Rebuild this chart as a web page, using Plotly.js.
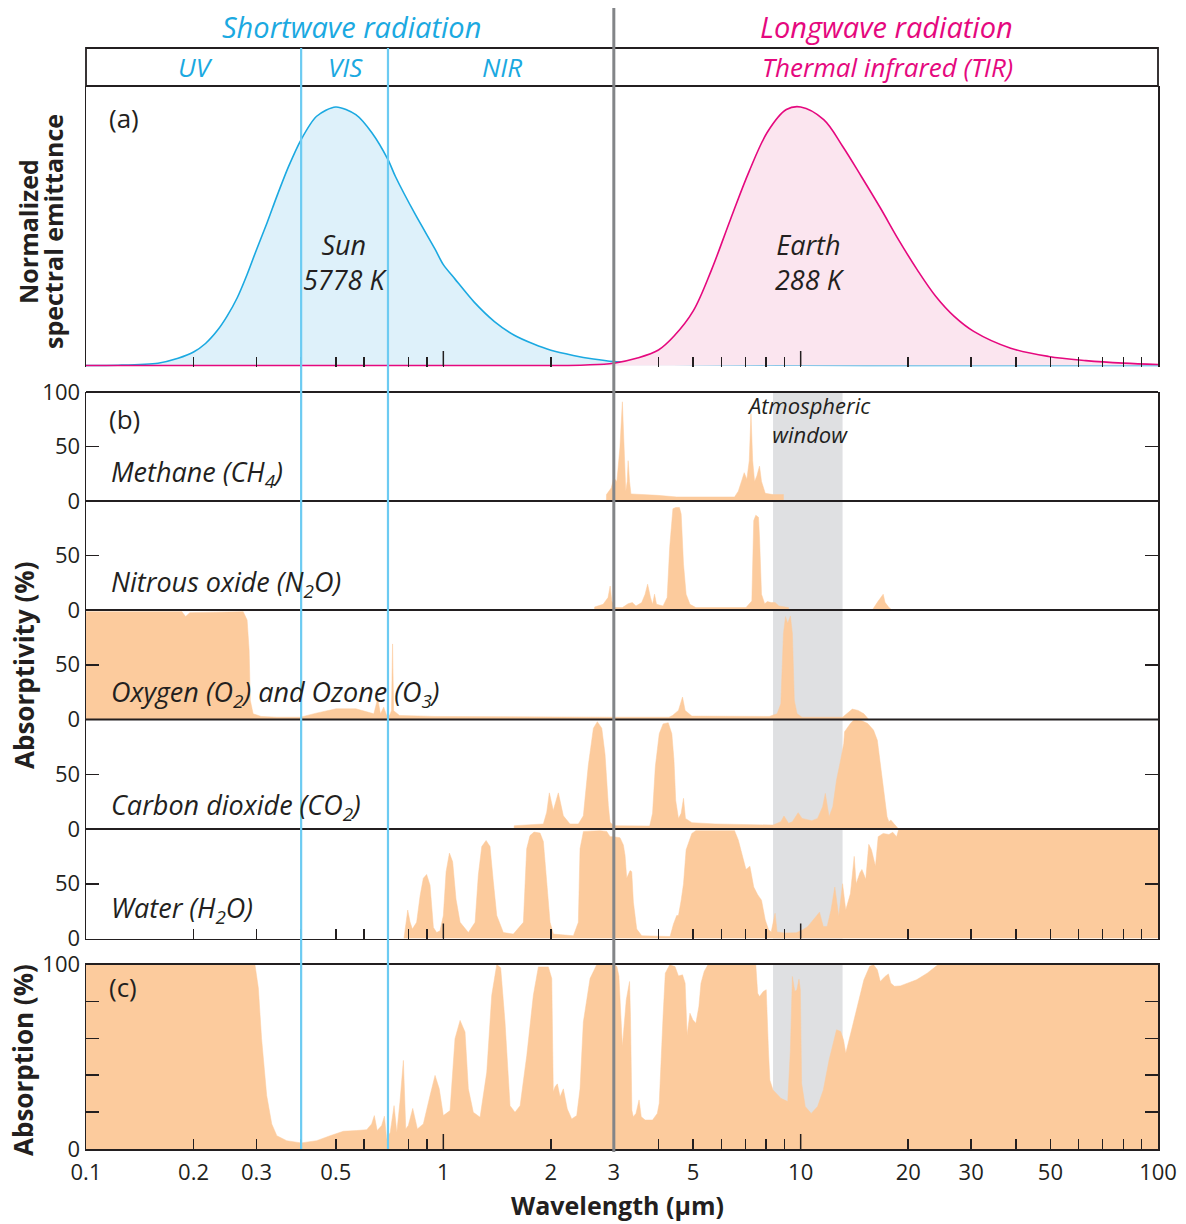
<!DOCTYPE html>
<html><head><meta charset="utf-8">
<script src="https://cdn.plot.ly/plotly-3.0.1.min.js"></script>
<style>html,body{margin:0;padding:0;background:#fff}#chart{width:1186px;height:1224px}</style>
</head><body><div id="chart"></div>
<script>
// ---------- DATA ----------
// Panel (a): normalized spectral emittance
const sunWl  = [0.1, 0.123, 0.159, 0.181, 0.2, 0.216, 0.233, 0.248, 0.265, 0.282, 0.3, 0.321, 0.342, 0.369, 0.4, 0.442, 0.5, 0.569, 0.631, 0.7, 0.735, 0.834, 0.948, 1.0, 1.077, 1.22, 1.39, 1.58, 1.79, 2.0, 2.31, 2.63, 3.0, 4.0, 5.0, 7.0, 10, 20, 100];
const sunVal = [0, 0.001, 0.009, 0.028, 0.052, 0.085, 0.135, 0.19, 0.262, 0.35, 0.448, 0.551, 0.654, 0.77, 0.874, 0.964, 1.0, 0.97, 0.9, 0.796, 0.73, 0.585, 0.45, 0.39, 0.335, 0.245, 0.17, 0.117, 0.083, 0.059, 0.039, 0.025, 0.015, 0.007, 0.004, 0.002, 0.001, 0, 0];
const earthWl  = [0.1, 2.0, 2.5, 3.0, 3.47, 4.0, 4.43, 5.0, 5.63, 6.36, 7.17, 8.09, 9.12, 10, 11.6, 13.1, 14.8, 16.7, 18.8, 21.2, 23.9, 26.9, 30.5, 38.7, 49.4, 62.8, 80, 100];
const earthVal = [0, 0, 0.002, 0.009, 0.028, 0.06, 0.115, 0.21, 0.37, 0.565, 0.75, 0.905, 0.99, 1.0, 0.951, 0.848, 0.73, 0.61, 0.486, 0.37, 0.267, 0.19, 0.132, 0.067, 0.035, 0.019, 0.009, 0.004];

// Panel (b): absorptivity (%) per gas
const ch4Wl  = [2.86, 2.861, 2.95, 3.00, 3.06, 3.12, 3.17, 3.21, 3.24, 3.27, 3.29, 3.32, 3.35, 3.97, 4.50, 6.53, 6.69, 6.86, 6.95, 7.07, 7.18, 7.26, 7.34, 7.43, 7.54, 7.67, 7.77, 7.96, 8.37, 8.95, 8.951];
const ch4Val = [0, 5.9, 12, 21, 18, 49, 91, 49, 9, 18, 37, 18, 6.5, 5.2, 3.7, 3.7, 9, 20, 26, 20, 37, 80, 37, 18, 23, 32, 18, 7, 5.9, 5.9, 0];

const n2oWl  = [2.65, 2.651, 2.80, 2.89, 2.93, 2.96, 3.02, 3.17, 3.29, 3.38, 3.46, 3.59, 3.67, 3.73, 3.80, 3.85, 3.90, 3.95, 4.12, 4.23, 4.30, 4.39, 4.47, 4.58, 4.63, 4.70, 4.78, 4.90, 5.09, 7.03, 7.30, 7.39, 7.49, 7.62, 7.67, 7.77, 7.93, 8.07, 8.27, 8.48, 8.69, 9.25, 9.251, 15.87, 16.39, 17.02, 17.22, 17.66, 18.02];
const n2oVal = [0, 2.8, 5.2, 11.4, 22, 8.3, 2.2, 2.2, 5.8, 6.8, 3.7, 6.8, 14.5, 23.7, 11.4, 5.2, 14.5, 5.2, 3.7, 11.4, 57.5, 93, 94, 94, 88, 42, 14.5, 5.2, 2.2, 2.2, 8.3, 82, 87, 85, 67, 14.5, 5.8, 7.7, 6.8, 6.8, 3.7, 2.2, 0, 0, 7, 14.5, 7, 2.2, 0];

const o3Wl  = [0.1, 0.1855, 0.190, 0.1952, 0.2754, 0.2824, 0.2861, 0.2883, 0.2936, 0.309, 0.342, 0.398, 0.441, 0.501, 0.569, 0.614, 0.639, 0.655, 0.667, 0.681, 0.694, 0.707, 0.716, 0.721, 0.726, 0.754, 0.948, 2.91, 4.28, 4.38, 4.55, 4.67, 4.75, 4.96, 8.17, 8.59, 8.80, 8.95, 9.07, 9.20, 9.36, 9.48, 9.60, 9.77, 10.09, 13.1, 13.43, 13.95, 14.48, 15.03, 15.51];
const o3Val = [98.5, 98.5, 94, 97.6, 98.5, 90.8, 63.3, 17.4, 5.2, 2.8, 2.1, 2.1, 5.8, 9.8, 9.8, 6.7, 5.2, 19, 5.2, 11.3, 3.7, 3.7, 8, 69, 8, 3.7, 2.8, 2.1, 2.1, 3.7, 8.3, 20.5, 8.3, 3.1, 2.8, 5.2, 14.4, 78.6, 93.9, 87.8, 94.5, 78.6, 17.4, 5.2, 2.1, 2.1, 5.2, 9.5, 8.3, 5.2, 0];

const co2Wl  = [1.578, 1.579, 1.905, 1.947, 1.98, 2.031, 2.098, 2.167, 2.262, 2.387, 2.465, 2.545, 2.63, 2.698, 2.776, 2.835, 2.896, 2.928, 3.0, 3.78, 3.85, 3.92, 4.02, 4.12, 4.26, 4.36, 4.42, 4.47, 4.55, 4.63, 4.70, 4.76, 4.96, 5.76, 8.37, 8.80, 8.98, 9.25, 9.48, 9.84, 10.09, 10.74, 11.15, 11.52, 11.72, 12.01, 12.30, 12.6, 12.94, 13.2, 13.27, 13.78, 14.12, 14.84, 15.4, 15.99, 16.39, 16.6, 17.02, 17.45, 17.66, 17.88, 18.2, 18.56, 18.79];
const co2Val = [0, 3, 4.6, 15.4, 33, 17, 33, 12, 4.6, 4.6, 12, 58, 92, 98, 92, 68, 21.5, 6.2, 3, 2.7, 14.3, 57, 87, 96, 97, 87, 63, 26, 9.7, 14.3, 28, 9.7, 5.8, 4.6, 3.6, 6.7, 11.9, 5.2, 6.7, 14.9, 9.7, 7.6, 9.7, 20.4, 32.5, 11.2, 20.4, 44.7, 63, 78, 88.8, 96.4, 100, 98.8, 96.4, 90.3, 81, 66, 38.6, 11.2, 6.7, 8.2, 5.2, 2.1, 0];

const h2oWl  = [0.776, 0.785, 0.795, 0.807, 0.819, 0.842, 0.861, 0.879, 0.898, 0.918, 0.928, 0.938, 0.958, 0.979, 1.0, 1.018, 1.04, 1.062, 1.085, 1.114, 1.175, 1.227, 1.253, 1.281, 1.317, 1.351, 1.38, 1.411, 1.472, 1.57, 1.675, 1.711, 1.748, 1.794, 1.865, 1.905, 1.947, 1.989, 2.032, 2.312, 2.387, 2.413, 2.466, 2.746, 2.866, 2.928, 2.991, 3.122, 3.19, 3.225, 3.26, 3.331, 3.367, 3.403, 3.477, 3.592, 4.311, 4.404, 4.499, 4.55, 4.63, 4.70, 4.78, 4.96, 5.09, 6.53, 6.69, 6.86, 7.03, 7.21, 7.39, 7.58, 7.77, 7.96, 8.13, 8.27, 8.48, 8.59, 9.02, 9.72, 10.09, 10.47, 10.87, 11.29, 11.57, 11.86, 12.16, 12.46, 12.78, 13.1, 13.37, 13.78, 14.12, 14.30, 14.65, 14.84, 15.21, 15.51, 15.78, 16.19, 16.48, 17.02, 17.66, 18.10, 18.56, 18.79, 19.5, 100];
const h2oVal = [0, 12, 26, 15, 8.6, 14.8, 39, 55, 58.5, 48.6, 24, 10, 5.5, 7, 21, 61, 78, 70, 36, 14.8, 5.5, 14.8, 58, 84, 89.5, 84, 52, 21, 5.5, 4, 14.8, 82, 94, 97.2, 96.3, 88.6, 51.7, 14.8, 4, 2.5, 14.8, 82, 97.8, 98.5, 97.8, 93, 93, 92, 85.5, 76, 55, 62, 61, 33, 8.6, 2.5, 1.8, 13, 21, 21, 35, 50, 81, 96, 98.5, 98.5, 90, 75, 63, 66, 47, 40, 35, 17, 8, 6, 23, 6, 5, 5.2, 7.6, 11, 17, 24, 11, 11, 26, 47, 20, 50, 26, 41, 75, 50, 60, 63, 54, 86, 81, 66, 93, 96, 95, 97, 93, 99, 100, 100];

// Panel (c): total atmospheric absorption (%)
const totWl  = [0.1, 0.297, 0.3036, 0.310, 0.3204, 0.331, 0.342, 0.3645, 0.4, 0.442, 0.482, 0.525, 0.572, 0.6105, 0.630, 0.641, 0.653, 0.672, 0.684, 0.694, 0.71, 0.728, 0.741, 0.756, 0.773, 0.785, 0.798, 0.821, 0.846, 0.879, 0.918, 0.948, 0.974, 1.0, 1.044, 1.078, 1.114, 1.15, 1.175, 1.213, 1.267, 1.323, 1.366, 1.411, 1.447, 1.488, 1.537, 1.587, 1.64, 1.712, 1.786, 1.845, 1.968, 2.011, 2.031, 2.054, 2.085, 2.122, 2.167, 2.223, 2.287, 2.362, 2.413, 2.465, 2.574, 2.688, 3.0, 3.06, 3.10, 3.14, 3.17, 3.25, 3.32, 3.34, 3.37, 3.40, 3.46, 3.53, 3.58, 3.67, 3.85, 3.97, 4.02, 4.12, 4.18, 4.30, 4.45, 4.55, 4.67, 4.75, 4.81, 4.90, 4.99, 5.09, 5.19, 5.26, 5.37, 5.5, 7.49, 7.58, 7.67, 7.86, 8.01, 8.13, 8.2, 8.37, 8.80, 9.2, 9.36, 9.48, 9.63, 9.76, 9.89, 9.98, 10.06, 10.3, 10.7, 11.15, 11.57, 12.01, 12.3, 12.6, 12.94, 13.18, 13.37, 13.6, 13.95, 14.48, 15.03, 15.6, 16.0, 16.39, 16.7, 17.22, 17.6, 17.88, 18.3, 19.0, 21.1, 22.6, 24.2, 100];
const totVal = [100, 100, 87.3, 59.8, 29, 13.6, 7.2, 4.5, 3.3, 4.5, 7.2, 9.6, 10, 10.5, 13.6, 18.1, 10, 12.7, 17.8, 5.4, 9, 23.5, 9, 25.4, 48, 10.9, 12.7, 22, 10.9, 13.6, 29, 39.9, 32.6, 18.1, 20.8, 59.8, 69.7, 63.4, 32.6, 19.9, 17.2, 41.7, 83.3, 100, 98.2, 68.8, 23.5, 19.9, 23.5, 50.7, 83.3, 98.7, 98.7, 92.4, 31, 33.7, 35.3, 28.3, 32.6, 21.7, 16.3, 18.1, 32.6, 68.8, 92.4, 100, 100, 98.9, 93.7, 72, 55.5, 80.8, 90.8, 71.8, 21, 17.5, 19.3, 26.6, 17.5, 15.7, 15.7, 19.3, 24.8, 71.8, 95.3, 99.8, 98.9, 93.8, 94.4, 89.9, 61.8, 73.6, 70, 68.1, 77.2, 89.9, 96.2, 99.8, 99.8, 84.4, 82.6, 85.4, 86.3, 52, 37.3, 32, 27.5, 25.7, 53.7, 93.5, 85.4, 86.3, 92, 86.3, 35.6, 23, 19.3, 23, 32, 48.3, 57.3, 64.6, 63.7, 59.1, 51.9, 57.3, 66.2, 79, 91.7, 99, 99.8, 97.1, 90.8, 93.5, 94.9, 89.9, 88.2, 88.4, 91.7, 95.3, 99.8, 100];

// Axis ticks / reference wavelengths
const xTickVals = [0.1, 0.2, 0.3, 0.4, 0.5, 0.6, 0.7, 0.8, 0.9, 1, 2, 3, 4, 5, 6, 7, 8, 9, 10, 20, 30, 40, 50, 60, 70, 80, 90, 100];
const xTickText = ['0.1', '0.2', '0.3', '', '0.5', '', '', '', '', '1', '2', '3', '', '5', '', '', '', '', '10', '20', '30', '', '50', '', '', '', '', '100'];
const decadeTicks = [1, 10];
const visBounds = [0.4, 0.7];      // UV|VIS and VIS|NIR boundaries (µm)
const swLwBound = 3;               // shortwave / longwave boundary (µm)
const windowBand = [8.37, 13.1];   // atmospheric window (µm)

// ---------- LAYOUT HELPERS ----------
const W = 1186, H = 1224;
const px = v => v / W, py = v => 1 - v / H;
const FONT = 'Open Sans, sans-serif';
const INK = '#231F20';
const ORANGE = '#FCCB9D';
const CYAN = '#1BA9E1', MAG = '#E5087E';
const xDom = [px(86), px(1158)];

const panelB = [
  {name: 'ch4', wl: ch4Wl, v: ch4Val, top: 392, bot: 501},
  {name: 'n2o', wl: n2oWl, v: n2oVal, top: 501, bot: 610},
  {name: 'o3',  wl: o3Wl,  v: o3Val,  top: 610, bot: 719.5},
  {name: 'co2', wl: co2Wl, v: co2Val, top: 719.5, bot: 829},
  {name: 'h2o', wl: h2oWl, v: h2oVal, top: 829, bot: 938.5}
];

const traces = [];
traces.push({x: sunWl, y: sunVal, xaxis: 'x2', yaxis: 'y', mode: 'lines', line: {color: CYAN, width: 1.6, shape: 'spline', smoothing: 0.8}, fill: 'tozeroy', fillcolor: '#DEF1FA', hoverinfo: 'skip'});
traces.push({x: earthWl, y: earthVal, xaxis: 'x2', yaxis: 'y', mode: 'lines', line: {color: MAG, width: 1.6, shape: 'spline', smoothing: 1}, fill: 'tozeroy', fillcolor: '#FBE5EF', hoverinfo: 'skip'});
panelB.forEach((p, i) => {
  traces.push({x: p.wl, y: p.v, xaxis: 'x3', yaxis: 'y' + (i + 2), mode: 'lines', line: {color: ORANGE, width: 0.5}, fill: 'tozeroy', fillcolor: ORANGE, hoverinfo: 'skip'});
});
traces.push({x: totWl, y: totVal, xaxis: 'x', yaxis: 'y7', mode: 'lines', line: {color: ORANGE, width: 0.5}, fill: 'tozeroy', fillcolor: ORANGE, hoverinfo: 'skip'});

const tickFont = {family: FONT, size: 22, color: INK};
function xAxis(anchor, labels, line, mirror) {
  return {type: 'log', range: [-1, 2], domain: xDom, anchor: anchor,
    tickmode: 'array', tickvals: xTickVals, ticktext: xTickText, showticklabels: labels, tickangle: 0,
    ticks: 'inside', ticklen: 10, tickwidth: 1.5, tickcolor: INK, tickfont: tickFont,
    ticklabelstandoff: 3,
    showline: line, linecolor: INK, linewidth: 1.5, mirror: mirror,
    showgrid: false, zeroline: false, fixedrange: true};
}
const layout = {
  width: W, height: H, margin: {l: 0, r: 0, t: 0, b: 0},
  paper_bgcolor: '#fff', plot_bgcolor: 'rgba(0,0,0,0)', showlegend: false,
  font: {family: FONT, color: INK},
  xaxis: xAxis('y7', true, true, true),
  xaxis2: xAxis('y', false, false, false),
  xaxis3: xAxis('y6', false, true, false),
  yaxis: {domain: [py(367), py(86)], anchor: 'x2', range: [-0.0058, 1.081], showticklabels: false, ticks: '',
    showline: true, linecolor: INK, linewidth: 1.5, mirror: true, showgrid: false, zeroline: false, fixedrange: true},
  yaxis7: {domain: [py(1149), py(964.5)], anchor: 'x', range: [0, 100], tickmode: 'array',
    tickvals: [0, 20, 40, 60, 80, 100], ticktext: ['0', '', '', '', '', '100'], ticks: 'inside', ticklen: 13, tickwidth: 1.5,
    tickcolor: INK, tickfont: tickFont, showline: true, linecolor: INK, linewidth: 1.5, mirror: 'ticks',
    showgrid: false, zeroline: false, fixedrange: true},
  shapes: [], annotations: []
};
panelB.forEach((p, i) => {
  layout['yaxis' + (i + 2)] = {domain: [py(p.bot), py(p.top)], anchor: 'x3', range: [0, 100], tickmode: 'array',
    tickvals: [0, 50, 100], ticktext: ['0', '50', i === 0 ? '100' : ''], ticks: 'inside', ticklen: 13, tickwidth: 1.5,
    tickcolor: INK, tickfont: tickFont, showline: true, linecolor: INK, linewidth: 1.5, mirror: 'ticks',
    showgrid: false, zeroline: false, fixedrange: true};
});

const S = layout.shapes;
// atmospheric window bands (behind fills)
S.push({type: 'rect', layer: 'below', xref: 'x', yref: 'paper', x0: windowBand[0], x1: windowBand[1], y0: py(938.5), y1: py(392), fillcolor: '#DFE0E2', line: {width: 0}});
S.push({type: 'rect', layer: 'below', xref: 'x', yref: 'paper', x0: windowBand[0], x1: windowBand[1], y0: py(1149), y1: py(964.5), fillcolor: '#DFE0E2', line: {width: 0}});
// sub-panel separators in (b)
panelB.forEach(p => {
  S.push({type: 'line', layer: 'above', xref: 'paper', yref: 'paper', x0: xDom[0], x1: xDom[1], y0: py(p.top), y1: py(p.top), line: {color: INK, width: 1.8}});
});
// header box
S.push({type: 'rect', layer: 'above', xref: 'paper', yref: 'paper', x0: xDom[0], x1: xDom[1], y0: py(86), y1: py(48), line: {color: INK, width: 1.8}});
// longer decade ticks
[[366, 351], [938.5, 923.5], [1149, 1134]].forEach(([a, b]) => {
  decadeTicks.forEach(d => S.push({type: 'line', layer: 'above', xref: 'x', yref: 'paper', x0: d, x1: d, y0: py(a), y1: py(b), line: {color: INK, width: 1.5}}));
});
// VIS boundaries
visBounds.forEach(v => S.push({type: 'line', layer: 'above', xref: 'x', yref: 'paper', x0: v, x1: v, y0: py(1149), y1: py(48), line: {color: '#6CCBF2', width: 2.2}}));
// shortwave / longwave divider
S.push({type: 'line', layer: 'above', xref: 'x', yref: 'paper', x0: swLwBound, x1: swLwBound, y0: py(1152), y1: py(8), line: {color: '#838588', width: 3}});

const A = layout.annotations;
function ann(text, x, y, size, opts) {
  opts = opts || {};
  A.push(Object.assign({text: text, x: px(x), y: py(y), xref: 'paper', yref: 'paper', showarrow: false,
    xanchor: 'center', yanchor: 'middle',
    font: Object.assign({family: FONT, size: size, color: INK}, opts.font || {})}, opts.extra || {}));
}
const it = c => ({font: {style: 'italic', color: c || INK}});
ann('Shortwave radiation', 351, 26, 29, it(CYAN));
ann('Longwave radiation', 886, 26, 29, it(MAG));
ann('UV', 195, 67, 26, it(CYAN));
ann('VIS', 345, 67, 26, it(CYAN));
ann('NIR', 502, 67, 26, it(CYAN));
ann('Thermal infrared (TIR)', 887, 67, 26, it(MAG));
ann('Sun<br>5778 K', 345, 262, 27, it());
ann('Earth<br>288 K', 810, 262, 27, it());
ann('Atmospheric<br>window', 809, 419, 22, it());
ann('(a)', 107, 118, 26, {extra: {xanchor: 'left'}});
ann('(b)', 107, 419, 26, {extra: {xanchor: 'left'}});
ann('(c)', 107, 987, 26, {extra: {xanchor: 'left'}});
const gasLabels = ['Methane (CH<sub>4</sub>)', 'Nitrous oxide (N<sub>2</sub>O)', 'Oxygen (O<sub>2</sub>) and Ozone (O<sub>3</sub>)', 'Carbon dioxide (CO<sub>2</sub>)', 'Water (H<sub>2</sub>O)'];
const gasY = [474, 583, 693, 806, 909];
gasLabels.forEach((t, i) => ann(t, 109, gasY[i], 27, {font: {style: 'italic'}, extra: {xanchor: 'left'}}));
ann('Normalized', 28, 232, 25, {font: {weight: 'bold'}, extra: {textangle: -90}});
ann('spectral emittance', 53, 232, 25, {font: {weight: 'bold'}, extra: {textangle: -90}});
ann('Absorptivity (%)', 24, 665, 26, {font: {weight: 'bold'}, extra: {textangle: -90}});
ann('Absorption (%)', 23, 1060, 26, {font: {weight: 'bold'}, extra: {textangle: -90}});
ann('Wavelength (µm)', 617, 1205, 25, {font: {weight: 'bold'}});

Plotly.newPlot('chart', traces, layout, {staticPlot: true});
</script></body></html>
